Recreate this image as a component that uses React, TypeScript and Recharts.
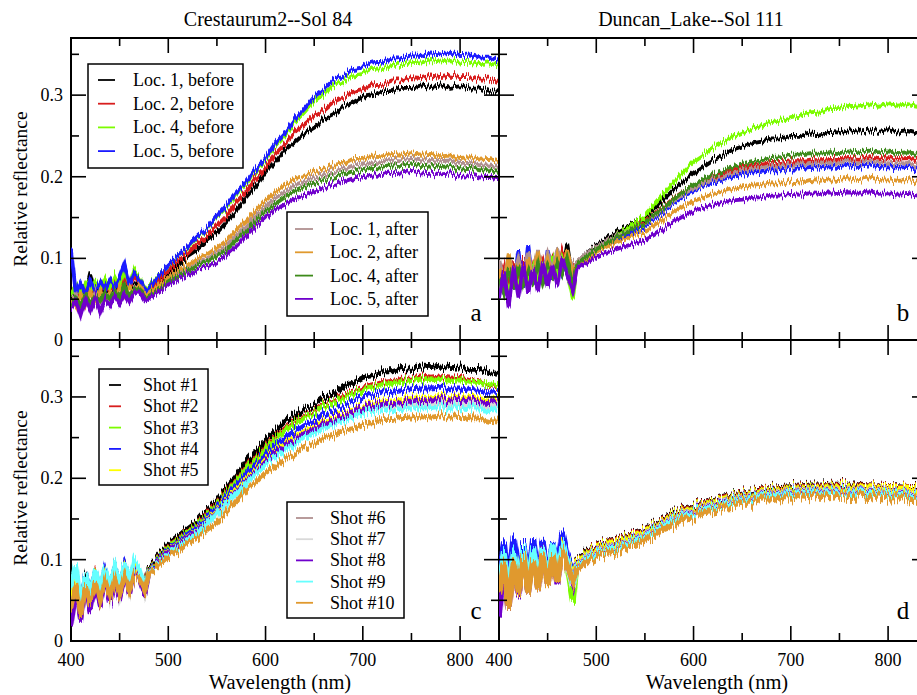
import React from "react";
import { LineChart, Line, XAxis, YAxis, ReferenceArea } from "recharts";

const FONT = "Liberation Serif, Times New Roman, Times, serif";
const TS: React.CSSProperties = { fontFamily: FONT };

// wavelengths (nm)
const WL = [400,405,410,415,420,425,430,435,440,445,450,455,460,465,470,476,
  480,490,500,510,520,530,540,550,560,570,580,590,600,610,620,630,640,650,660,670,
  680,690,700,710,720,730,740,750,760,770,780,790,800,810,820,830,840];

const X_TICKS = [400,450,500,550,600,650,700,750,800];
const Y_TICKS = [0,0.05,0.1,0.15,0.2,0.25,0.3,0.35];

const TITLE_A = "Crestaurum2--Sol 84";
const TITLE_B = "Duncan_Lake--Sol 111";

// colours
const C_BLACK = "#000000";
const C_RED = "#d81e1e";
const C_LGREEN = "#7cfc00";
const C_BLUE = "#1a1aff";
const C_BROWN = "#b09090";
const C_ORANGE = "#e0992e";
const C_DKGREEN = "#3d8a1a";
const C_PURPLE = "#6f00cc";
const C_YELLOW = "#ffff00";
const C_GREY = "#d9d9d9";
const C_CYAN = "#66ffff";

// Panel a — Crestaurum2
const A_LOC1_BEFORE = [.062,.052,.066,.055,.080,.056,.064,.058,.068,.060,.070,.062,.071,.065,.074,.056,
  .060,.070,.082,.091,.103,.111,.122,.131,.145,.158,.175,.189,.206,.218,.233,.242,.253,.260,.271,.277,
  .286,.291,.298,.300,.305,.305,.309,.309,.312,.310,.312,.309,.311,.308,.308,.304,.305];
const A_LOC2_BEFORE = [.058,.066,.054,.068,.057,.066,.060,.070,.061,.072,.063,.074,.066,.076,.074,.057,
  .063,.074,.085,.097,.106,.118,.127,.140,.152,.169,.182,.199,.211,.228,.240,.255,.264,.275,.282,.292,
  .297,.304,.306,.312,.313,.318,.318,.322,.321,.324,.322,.324,.322,.322,.319,.319,.316];
const A_LOC4_BEFORE = [.056,.068,.058,.070,.060,.072,.062,.074,.064,.078,.066,.084,.068,.086,.076,.059,
  .066,.080,.091,.104,.113,.126,.136,.151,.163,.179,.192,.208,.221,.238,.251,.267,.279,.293,.301,.312,
  .317,.324,.326,.332,.333,.337,.337,.341,.340,.343,.341,.343,.340,.341,.338,.339,.336];
const A_LOC5_BEFORE = [.112,.058,.070,.056,.072,.060,.071,.062,.074,.064,.076,.092,.068,.082,.075,.058,
  .064,.079,.092,.104,.114,.127,.137,.152,.165,.181,.194,.210,.223,.241,.254,.271,.283,.298,.307,.319,
  .324,.332,.334,.340,.341,.345,.345,.349,.348,.351,.350,.352,.349,.350,.346,.346,.342];
const A_LOC1_AFTER = [.046,.056,.040,.054,.044,.058,.046,.056,.050,.060,.052,.062,.054,.064,.066,.052,
  .056,.064,.074,.082,.087,.095,.099,.107,.115,.128,.139,.152,.163,.174,.181,.189,.193,.199,.202,.207,
  .209,.214,.215,.218,.218,.221,.220,.222,.220,.221,.219,.220,.217,.217,.214,.214,.212];
const A_LOC2_AFTER = [.050,.040,.056,.044,.058,.046,.060,.048,.058,.052,.064,.054,.066,.058,.068,.053,
  .058,.068,.077,.086,.092,.100,.105,.113,.122,.135,.146,.159,.171,.181,.189,.197,.200,.207,.209,.215,
  .216,.222,.222,.226,.225,.228,.227,.229,.227,.228,.225,.226,.223,.224,.221,.222,.219];
const A_LOC4_AFTER = [.040,.052,.042,.055,.044,.054,.048,.058,.050,.060,.052,.066,.054,.062,.064,.050,
  .054,.062,.072,.079,.085,.092,.096,.103,.110,.123,.133,.146,.157,.167,.175,.182,.187,.192,.196,.200,
  .203,.207,.208,.212,.211,.214,.213,.215,.213,.214,.212,.213,.210,.211,.208,.208,.206];
const A_LOC5_AFTER = [.036,.048,.030,.050,.036,.052,.034,.050,.042,.054,.044,.056,.046,.058,.060,.048,
  .051,.059,.068,.074,.080,.086,.090,.095,.104,.115,.127,.139,.150,.160,.166,.173,.177,.182,.186,.191,
  .194,.198,.199,.203,.202,.205,.204,.206,.204,.205,.203,.204,.201,.202,.199,.200,.198];

// Panel b — Duncan_Lake
const B_LOC1_BEFORE = [.082,.066,.094,.070,.098,.072,.090,.078,.102,.074,.096,.080,.104,.082,.118,.072,
  .094,.106,.116,.124,.131,.138,.144,.150,.161,.173,.185,.195,.205,.213,.221,.226,.233,.237,.241,.243,
  .247,.247,.250,.250,.253,.252,.255,.254,.257,.255,.257,.255,.257,.254,.256,.253,.254];
const B_LOC2_BEFORE = [.070,.090,.064,.096,.072,.100,.070,.094,.076,.098,.080,.100,.078,.108,.090,.086,
  .092,.103,.113,.120,.127,.133,.139,.145,.154,.164,.174,.182,.189,.195,.200,.204,.208,.211,.213,.215,
  .217,.217,.219,.219,.221,.220,.222,.222,.223,.222,.224,.222,.224,.222,.223,.222,.223];
const B_LOC4_BEFORE = [.060,.084,.052,.090,.066,.094,.068,.098,.072,.092,.078,.104,.080,.100,.084,.050,
  .093,.103,.112,.119,.127,.135,.143,.152,.166,.180,.194,.207,.219,.227,.236,.242,.249,.254,.259,.262,
  .267,.269,.273,.275,.279,.280,.284,.284,.287,.286,.289,.287,.289,.287,.289,.287,.288];
const B_LOC5_BEFORE = [.090,.056,.100,.062,.110,.064,.116,.068,.104,.070,.110,.074,.108,.080,.092,.078,
  .090,.100,.110,.116,.122,.128,.133,.139,.148,.158,.168,.176,.183,.189,.193,.197,.200,.202,.205,.206,
  .208,.208,.210,.210,.212,.211,.213,.212,.214,.212,.214,.212,.213,.211,.212,.210,.211];
const B_LOC1_AFTER = [.098,.072,.104,.076,.100,.080,.108,.078,.110,.082,.106,.086,.112,.088,.104,.094,
  .095,.106,.114,.121,.127,.132,.137,.142,.151,.161,.171,.179,.186,.192,.197,.200,.204,.207,.209,.211,
  .213,.213,.215,.215,.217,.216,.218,.217,.219,.217,.219,.217,.218,.216,.217,.215,.216];
const B_LOC2_AFTER = [.088,.060,.106,.064,.094,.070,.100,.074,.108,.076,.098,.080,.104,.084,.110,.082,
  .090,.099,.108,.114,.119,.124,.128,.132,.140,.149,.157,.164,.170,.175,.179,.182,.185,.187,.189,.190,
  .192,.192,.194,.193,.196,.195,.197,.196,.198,.196,.198,.196,.197,.195,.196,.194,.194];
const B_LOC4_AFTER = [.076,.058,.088,.062,.092,.068,.086,.072,.094,.070,.090,.078,.096,.080,.100,.068,
  .091,.102,.111,.118,.125,.131,.137,.143,.153,.163,.173,.182,.190,.197,.203,.207,.212,.215,.218,.220,
  .223,.224,.227,.227,.229,.228,.230,.229,.231,.230,.232,.230,.231,.229,.230,.228,.229];
const B_LOC5_AFTER = [.050,.084,.040,.090,.052,.094,.058,.088,.060,.096,.064,.092,.066,.100,.080,.060,
  .086,.094,.102,.107,.111,.115,.118,.122,.129,.137,.145,.152,.158,.162,.166,.168,.171,.172,.174,.175,
  .177,.177,.179,.178,.180,.179,.181,.180,.181,.179,.181,.179,.180,.178,.179,.177,.178];

// Panel c — Crestaurum2 shots
const C_SHOT1 = [.060,.080,.050,.078,.062,.084,.058,.086,.064,.090,.070,.092,.068,.094,.080,.068,
  .090,.104,.119,.128,.139,.148,.161,.172,.189,.203,.220,.233,.248,.258,.270,.277,.287,.291,.300,.305,
  .314,.317,.324,.326,.331,.331,.335,.334,.337,.336,.338,.336,.337,.334,.334,.330,.329];
const C_SHOT2 = [.056,.074,.046,.080,.058,.082,.060,.080,.066,.088,.068,.094,.070,.090,.084,.070,
  .088,.101,.116,.124,.135,.144,.157,.168,.184,.197,.213,.226,.240,.250,.261,.269,.278,.283,.291,.296,
  .304,.306,.311,.314,.318,.319,.322,.322,.325,.323,.325,.323,.324,.320,.319,.314,.312];
const C_SHOT3 = [.052,.072,.040,.076,.056,.080,.058,.082,.064,.086,.066,.088,.070,.092,.082,.066,
  .087,.100,.115,.123,.134,.143,.155,.167,.182,.196,.211,.224,.238,.248,.259,.267,.276,.281,.289,.294,
  .301,.304,.308,.312,.315,.317,.319,.320,.322,.321,.322,.320,.321,.318,.318,.315,.314];
const C_SHOT4 = [.058,.084,.048,.082,.060,.086,.062,.088,.068,.090,.070,.094,.074,.096,.086,.064,
  .086,.098,.112,.120,.131,.140,.152,.164,.178,.191,.205,.218,.231,.240,.250,.258,.266,.271,.279,.284,
  .291,.295,.300,.302,.306,.307,.309,.310,.311,.311,.312,.310,.310,.308,.307,.305,.304];
const C_SHOT5 = [.054,.076,.044,.078,.058,.080,.060,.084,.066,.086,.068,.090,.072,.094,.084,.062,
  .085,.096,.110,.118,.128,.137,.148,.160,.173,.186,.199,.212,.225,.233,.243,.250,.258,.263,.270,.275,
  .281,.284,.288,.291,.294,.295,.298,.298,.300,.299,.301,.299,.300,.298,.298,.296,.296];
const C_SHOT6 = [.040,.068,.030,.070,.048,.074,.052,.076,.056,.078,.060,.082,.062,.086,.078,.060,
  .084,.095,.108,.116,.125,.134,.145,.156,.169,.181,.194,.207,.220,.229,.238,.245,.253,.259,.265,.270,
  .276,.280,.284,.286,.289,.291,.293,.293,.295,.294,.296,.294,.295,.293,.292,.291,.290];
const C_SHOT7 = [.020,.064,.028,.066,.040,.070,.046,.072,.050,.074,.054,.078,.058,.082,.076,.058,
  .083,.094,.107,.115,.124,.133,.144,.155,.168,.180,.193,.206,.219,.227,.236,.243,.251,.257,.263,.268,
  .274,.278,.282,.284,.287,.288,.290,.290,.292,.291,.293,.291,.292,.290,.289,.288,.287];
const C_SHOT8 = [.018,.062,.024,.068,.036,.070,.042,.074,.046,.076,.052,.080,.056,.084,.078,.056,
  .084,.096,.109,.117,.127,.136,.147,.158,.171,.183,.196,.209,.222,.231,.240,.247,.255,.261,.267,.272,
  .278,.282,.286,.288,.291,.293,.294,.295,.297,.296,.298,.296,.297,.295,.294,.293,.292];
const C_SHOT9 = [.066,.094,.048,.082,.060,.088,.064,.090,.068,.092,.070,.096,.074,.100,.090,.064,
  .084,.094,.106,.114,.124,.133,.145,.157,.169,.181,.194,.206,.218,.226,.235,.242,.250,.255,.262,.266,
  .272,.275,.280,.281,.284,.284,.286,.286,.288,.287,.288,.286,.287,.285,.285,.283,.283];
const C_SHOT10 = [.040,.070,.030,.068,.046,.072,.050,.074,.054,.076,.058,.080,.060,.082,.078,.062,
  .083,.092,.103,.110,.120,.127,.137,.145,.159,.171,.186,.195,.207,.214,.224,.230,.238,.242,.250,.253,
  .259,.261,.266,.267,.272,.272,.275,.274,.277,.275,.277,.275,.276,.273,.273,.270,.269];

// Panel d — Duncan_Lake shots
const D_SHOT1 = [.080,.100,.066,.104,.072,.108,.074,.110,.078,.112,.080,.108,.082,.114,.096,.080,
  .099,.108,.116,.120,.124,.128,.132,.136,.143,.150,.156,.161,.165,.169,.173,.176,.179,.181,.183,.185,
  .187,.188,.189,.190,.191,.191,.192,.192,.191,.191,.190,.190,.189,.189,.188,.188,.188];
const D_SHOT2 = [.076,.106,.062,.110,.070,.112,.072,.108,.076,.116,.080,.112,.084,.118,.100,.078,
  .098,.106,.115,.119,.123,.127,.131,.135,.142,.149,.155,.160,.164,.168,.172,.175,.178,.180,.182,.184,
  .186,.187,.188,.189,.190,.190,.191,.191,.190,.190,.190,.189,.189,.188,.188,.187,.186];
const D_SHOT3 = [.072,.098,.058,.102,.066,.106,.070,.104,.074,.108,.078,.110,.080,.112,.094,.050,
  .097,.105,.113,.118,.121,.126,.129,.134,.141,.147,.154,.158,.163,.166,.171,.173,.177,.178,.181,.182,
  .185,.185,.187,.187,.189,.188,.190,.189,.189,.188,.189,.187,.188,.186,.187,.185,.185];
const D_SHOT4 = [.086,.122,.070,.128,.076,.120,.078,.126,.080,.124,.084,.120,.086,.134,.104,.086,
  .096,.104,.112,.116,.120,.124,.128,.133,.140,.146,.153,.157,.162,.165,.170,.172,.176,.177,.180,.181,
  .184,.184,.186,.186,.188,.187,.189,.188,.188,.187,.188,.186,.187,.185,.186,.184,.184];
const D_SHOT5 = [.078,.102,.064,.106,.070,.110,.072,.108,.078,.110,.080,.112,.084,.114,.098,.082,
  .097,.104,.113,.117,.121,.125,.129,.134,.140,.147,.153,.158,.162,.166,.170,.173,.176,.178,.180,.182,
  .184,.185,.186,.187,.188,.188,.189,.189,.189,.188,.189,.188,.188,.187,.187,.186,.185];
const D_SHOT6 = [.074,.104,.060,.108,.068,.106,.070,.110,.074,.112,.078,.114,.080,.116,.096,.076,
  .094,.102,.110,.114,.118,.122,.126,.131,.138,.145,.151,.156,.160,.164,.168,.171,.174,.176,.178,.180,
  .182,.183,.184,.185,.186,.186,.186,.186,.186,.186,.185,.185,.184,.183,.182,.181,.180];
const D_SHOT7 = [.040,.094,.050,.098,.060,.102,.064,.104,.068,.106,.072,.108,.074,.110,.092,.066,
  .093,.101,.109,.113,.117,.121,.125,.130,.137,.144,.150,.155,.159,.163,.167,.170,.173,.175,.177,.179,
  .181,.182,.183,.184,.185,.185,.185,.185,.185,.185,.184,.184,.183,.182,.181,.180,.179];
const D_SHOT8 = [.030,.104,.040,.110,.054,.112,.060,.114,.064,.116,.068,.112,.070,.118,.094,.072,
  .092,.100,.108,.112,.116,.120,.124,.129,.136,.143,.149,.154,.158,.162,.166,.169,.172,.174,.176,.178,
  .180,.181,.182,.183,.184,.184,.184,.184,.184,.184,.183,.183,.182,.181,.180,.179,.178];
const D_SHOT9 = [.070,.110,.056,.112,.064,.114,.068,.116,.072,.114,.076,.118,.078,.120,.098,.070,
  .091,.099,.107,.111,.115,.119,.123,.128,.135,.142,.148,.153,.157,.161,.165,.168,.171,.173,.175,.177,
  .179,.180,.181,.182,.183,.183,.183,.183,.183,.183,.182,.182,.181,.180,.179,.178,.177];
const D_SHOT10 = [.060,.096,.040,.100,.056,.104,.060,.100,.064,.106,.068,.104,.072,.110,.092,.074,
  .088,.096,.102,.108,.110,.116,.118,.125,.130,.139,.143,.150,.152,.158,.160,.165,.166,.170,.170,.174,
  .174,.177,.176,.179,.178,.180,.178,.180,.178,.179,.177,.179,.176,.177,.174,.175,.172];

type Series = { key: string; name: string; color: string; values: number[] };

const SERIES_A: Series[] = [
  { key: "s1", name: "Loc. 1, before", color: C_BLACK, values: A_LOC1_BEFORE },
  { key: "s2", name: "Loc. 2, before", color: C_RED, values: A_LOC2_BEFORE },
  { key: "s3", name: "Loc. 4, before", color: C_LGREEN, values: A_LOC4_BEFORE },
  { key: "s4", name: "Loc. 5, before", color: C_BLUE, values: A_LOC5_BEFORE },
  { key: "s5", name: "Loc. 1, after", color: C_BROWN, values: A_LOC1_AFTER },
  { key: "s6", name: "Loc. 2, after", color: C_ORANGE, values: A_LOC2_AFTER },
  { key: "s7", name: "Loc. 4, after", color: C_DKGREEN, values: A_LOC4_AFTER },
  { key: "s8", name: "Loc. 5, after", color: C_PURPLE, values: A_LOC5_AFTER },
];
const SERIES_B: Series[] = [
  { key: "s1", name: "Loc. 1, before", color: C_BLACK, values: B_LOC1_BEFORE },
  { key: "s2", name: "Loc. 2, before", color: C_RED, values: B_LOC2_BEFORE },
  { key: "s3", name: "Loc. 4, before", color: C_LGREEN, values: B_LOC4_BEFORE },
  { key: "s4", name: "Loc. 5, before", color: C_BLUE, values: B_LOC5_BEFORE },
  { key: "s5", name: "Loc. 1, after", color: C_BROWN, values: B_LOC1_AFTER },
  { key: "s6", name: "Loc. 2, after", color: C_ORANGE, values: B_LOC2_AFTER },
  { key: "s7", name: "Loc. 4, after", color: C_DKGREEN, values: B_LOC4_AFTER },
  { key: "s8", name: "Loc. 5, after", color: C_PURPLE, values: B_LOC5_AFTER },
];
const SHOT_COLORS = [C_BLACK, C_RED, C_LGREEN, C_BLUE, C_YELLOW, C_BROWN, C_GREY, C_PURPLE, C_CYAN, C_ORANGE];
const C_VALUES = [C_SHOT1, C_SHOT2, C_SHOT3, C_SHOT4, C_SHOT5, C_SHOT6, C_SHOT7, C_SHOT8, C_SHOT9, C_SHOT10];
const D_VALUES = [D_SHOT1, D_SHOT2, D_SHOT3, D_SHOT4, D_SHOT5, D_SHOT6, D_SHOT7, D_SHOT8, D_SHOT9, D_SHOT10];
const SERIES_C: Series[] = C_VALUES.map((v, i) => ({ key: "s" + (i + 1), name: "Shot #" + (i + 1), color: SHOT_COLORS[i], values: v }));
const SERIES_D: Series[] = D_VALUES.map((v, i) => ({ key: "s" + (i + 1), name: "Shot #" + (i + 1), color: SHOT_COLORS[i], values: v }));

function buildRows(series: Series[]) {
  return WL.map((w, i) => {
    const r: any = { w };
    series.forEach((s) => { r[s.key] = s.values[i]; });
    return r;
  });
}

const PLOT_W = 428;

function makeXTick(plotH: number, showLabel: boolean) {
  return (props: any) => {
    const { x, y, payload } = props;
    const v = payload.value;
    const major = v % 100 === 0;
    const len = major ? 15 : 8;
    return (
      <g>
        <line x1={x} x2={x} y1={y} y2={y - len} stroke="#000" strokeWidth={1.6} />
        <line x1={x} x2={x} y1={y - plotH} y2={y - plotH + len} stroke="#000" strokeWidth={1.6} />
        {showLabel && major ? (
          <text x={x} y={y + 25} textAnchor="middle" style={TS} fontSize={18} fill="#000">{v}</text>
        ) : null}
      </g>
    );
  };
}

function makeYTick(showLabel: boolean) {
  return (props: any) => {
    const { x, y, payload } = props;
    const v = payload.value;
    const major = Math.round(v * 100) % 10 === 0;
    const len = major ? 15 : 8;
    return (
      <g>
        <line x1={x} x2={x + len} y1={y} y2={y} stroke="#000" strokeWidth={1.6} />
        <line x1={x + PLOT_W} x2={x + PLOT_W - len} y1={y} y2={y} stroke="#000" strokeWidth={1.6} />
        {showLabel && major ? (
          <text x={x - 8} y={y + 6} textAnchor="end" style={TS} fontSize={18} fill="#000">{v === 0 ? "0" : v.toFixed(1)}</text>
        ) : null}
      </g>
    );
  };
}

type PanelProps = {
  left: number; top: number; width: number; height: number; yw: number; mt: number; xh: number;
  plotH: number; series: Series[]; showX: boolean; showY: boolean; sw: number; filt: string;
};

function Panel(p: PanelProps) {
  const rows = buildRows(p.series);
  return (
    <div style={{ position: "absolute", left: p.left, top: p.top }}>
      <LineChart width={p.width} height={p.height} data={rows} margin={{ top: p.mt, right: 2, bottom: 0, left: 0 }}>
        <XAxis dataKey="w" type="number" domain={[400, 840]} ticks={X_TICKS} interval={0} allowDataOverflow
          tickSize={0} tickMargin={0} axisLine={false} tickLine={false} height={p.xh} tick={makeXTick(p.plotH, p.showX)} />
        <YAxis type="number" domain={[0, 0.37]} ticks={Y_TICKS} interval={0} allowDataOverflow
          tickSize={0} tickMargin={0} axisLine={false} tickLine={false} width={p.yw} tick={makeYTick(p.showY)} />
        {p.series.map((s) => (
          <Line key={s.key} dataKey={s.key} type="linear" stroke={s.color} strokeWidth={p.sw} dot={false}
            activeDot={false} isAnimationActive={false} style={{ filter: `url(#${p.filt})` }} />
        ))}
        <ReferenceArea x1={400} x2={840} y1={0} y2={0.37} fill="none" fillOpacity={0} stroke="#000" strokeWidth={2} ifOverflow="visible" />
      </LineChart>
    </div>
  );
}

function LegendBox({ x, y, w, h, items, lineX1, lineX2, textX, firstY, step }: any) {
  return (
    <g>
      <rect x={x} y={y} width={w} height={h} fill="#fff" stroke="#000" strokeWidth={1.5} />
      {items.map((s: Series, i: number) => (
        <g key={s.name}>
          <line x1={lineX1} x2={lineX2} y1={firstY + i * step} y2={firstY + i * step} stroke={s.color} strokeWidth={1.8} />
          <text x={textX} y={firstY + i * step + 6} style={TS} fontSize={18} fill="#000">{s.name}</text>
        </g>
      ))}
    </g>
  );
}

export default function App() {
  return (
    <div style={{ position: "absolute", left: 0, top: 0, width: 917, height: 695, overflow: "hidden", background: "#fff", fontFamily: FONT }}>
      <svg width={0} height={0} style={{ position: "absolute" }}>
        <defs>
          <filter id="jitterA" x="-2%" y="-30%" width="104%" height="160%">
            <feTurbulence type="fractalNoise" baseFrequency="0.9 0.02" numOctaves={1} seed={7} result="t" />
            <feColorMatrix in="t" type="matrix" values="0 0 0 0 0.5  0 1.6 0 0 -0.3  0 0 0 0 0  0 0 0 0 1" result="m" />
            <feDisplacementMap in="SourceGraphic" in2="m" scale={8} xChannelSelector="R" yChannelSelector="G" />
          </filter>
          <filter id="jitterC" x="-2%" y="-30%" width="104%" height="160%">
            <feTurbulence type="fractalNoise" baseFrequency="0.9 0.02" numOctaves={1} seed={3} result="t" />
            <feColorMatrix in="t" type="matrix" values="0 0 0 0 0.5  0 1.6 0 0 -0.3  0 0 0 0 0  0 0 0 0 1" result="m" />
            <feDisplacementMap in="SourceGraphic" in2="m" scale={11} xChannelSelector="R" yChannelSelector="G" />
          </filter>
          <filter id="jitterD" x="-2%" y="-40%" width="104%" height="180%">
            <feTurbulence type="fractalNoise" baseFrequency="0.9 0.02" numOctaves={1} seed={11} result="t" />
            <feColorMatrix in="t" type="matrix" values="0 0 0 0 0.5  0 1.6 0 0 -0.3  0 0 0 0 0  0 0 0 0 1" result="m" />
            <feDisplacementMap in="SourceGraphic" in2="m" scale={14} xChannelSelector="R" yChannelSelector="G" />
          </filter>
        </defs>
      </svg>
      <Panel left={0} top={0} width={501} height={370} yw={71} mt={38} xh={30} plotH={302} series={SERIES_A} showX={false} showY={true} sw={3.8} filt="jitterA" />
      <Panel left={459} top={0} width={470} height={370} yw={40} mt={38} xh={30} plotH={302} series={SERIES_B} showX={false} showY={false} sw={3.8} filt="jitterA" />
      <Panel left={0} top={330} width={501} height={351} yw={71} mt={10} xh={40} plotH={301} series={SERIES_C} showX={true} showY={true} sw={4.8} filt="jitterC" />
      <Panel left={459} top={330} width={470} height={351} yw={40} mt={10} xh={40} plotH={301} series={SERIES_D} showX={true} showY={false} sw={6} filt="jitterD" />
      <svg width={917} height={695} style={{ position: "absolute", left: 0, top: 0, pointerEvents: "none" }}>
        <text x={268} y={26} textAnchor="middle" style={TS} fontSize={20}>{TITLE_A}</text>
        <text x={691} y={26} textAnchor="middle" style={TS} fontSize={20}>{TITLE_B}</text>
        <text transform="translate(27,189) rotate(-90)" textAnchor="middle" style={TS} fontSize={19.5}>Relative reflectance</text>
        <text transform="translate(27,488) rotate(-90)" textAnchor="middle" style={TS} fontSize={19.5}>Relative reflectance</text>
        <text x={280} y={689} textAnchor="middle" style={TS} fontSize={20.5}>Wavelength (nm)</text>
        <text x={717} y={689} textAnchor="middle" style={TS} fontSize={20.5}>Wavelength (nm)</text>
        <text x={476} y={321} textAnchor="middle" style={TS} fontSize={25}>a</text>
        <text x={903} y={321} textAnchor="middle" style={TS} fontSize={25}>b</text>
        <text x={476} y={619} textAnchor="middle" style={TS} fontSize={25}>c</text>
        <text x={903} y={619} textAnchor="middle" style={TS} fontSize={25}>d</text>
        <LegendBox x={88} y={64} w={155} h={104} items={SERIES_A.slice(0, 4)} lineX1={98} lineX2={115} textX={133} firstY={80} step={23.7} />
        <LegendBox x={287} y={212} w={141} h={104} items={SERIES_A.slice(4, 8)} lineX1={295} lineX2={313} textX={330} firstY={229} step={23.3} />
        <LegendBox x={99} y={369} w={109} h={116} items={SERIES_C.slice(0, 5)} lineX1={109} lineX2={121} textX={143} firstY={385} step={21.3} />
        <LegendBox x={287} y={502} w={117} h={116} items={SERIES_C.slice(5, 10)} lineX1={296} lineX2={313} textX={330} firstY={518} step={21.2} />
      </svg>
    </div>
  );
}
